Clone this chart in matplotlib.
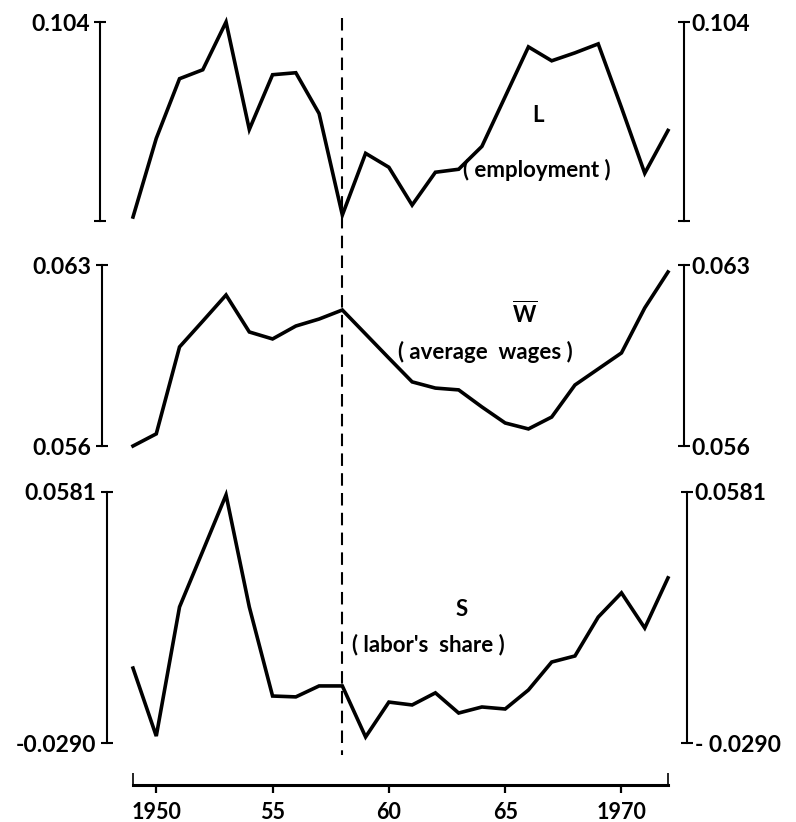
import matplotlib
matplotlib.use("Agg")
import matplotlib.pyplot as plt
from matplotlib.lines import Line2D
from matplotlib.transforms import blended_transform_factory

plt.rcParams['font.family'] = ['Lato', 'DejaVu Sans']
plt.rcParams['font.weight'] = 'bold'
plt.rcParams['mathtext.fontset'] = 'custom'
plt.rcParams['mathtext.rm'] = 'Lato:bold'

# annual series, 1949-1972
years = list(range(1949, 1973))
employment = [0.0844, 0.0923, 0.0983, 0.0992, 0.1040, 0.0932, 0.0987, 0.0989,
              0.0948, 0.0846, 0.0908, 0.0894, 0.0856, 0.0889, 0.0892, 0.0915,
              0.0965, 0.1015, 0.1001, 0.1009, 0.1018, 0.0954, 0.0888, 0.0931]
avg_wages = [0.05600, 0.05647, 0.05983, 0.06083, 0.06184, 0.06041, 0.06014, 0.06064,
             0.06091, 0.06126, 0.06033, 0.05940, 0.05848, 0.05824, 0.05817, 0.05751,
             0.05689, 0.05666, 0.05712, 0.05836, 0.05898, 0.05960, 0.06134, 0.06273]
labor_share = [-0.0030, -0.0266, 0.0182, 0.0376, 0.0571, 0.0182, -0.0127, -0.0130,
               -0.0092, -0.0092, -0.0269, -0.0148, -0.0158, -0.0116, -0.0186, -0.0165,
               -0.0172, -0.0106, -0.0009, 0.0012, 0.0147, 0.0231, 0.0109, 0.0283]

# scale end points of each panel
emp_range = (0.084, 0.104)
wage_range = (0.056, 0.063)
share_range = (-0.0290, 0.0581)

emp_labels = ['', '0.104']
wage_labels = ['0.056', '0.063']
share_left = ['-0.0290', '0.0581']
share_right = ['- 0.0290', '0.0581']

recession_year = 1958
x_ticks = [1950, 1955, 1960, 1965, 1970]
x_labels = ['1950', '55', '60', '65', '1970']

W, H = 796, 822
fig = plt.figure(figsize=(W / 100, H / 100), dpi=100)
fig.patch.set_facecolor('white')


def px_rect(x0, x1, ytop, ybot):
    return [x0 / W, 1 - ybot / H, (x1 - x0) / W, (ybot - ytop) / H]


def panel(top, bot, values, yrange, left_labels, right_labels, left_off, right_off):
    ax = fig.add_axes(px_rect(133, 668, top, bot))
    ax.plot(years, values, color='black', lw=2.6, solid_joinstyle='miter', clip_on=False)
    ax.set_xlim(years[0], years[-1])
    ax.set_ylim(*yrange)
    ax.patch.set_visible(False)
    ax2 = ax.twinx()
    ax2.set_ylim(*yrange)
    for s in ['top', 'bottom', 'right']:
        ax.spines[s].set_visible(False)
    for s in ['top', 'bottom', 'left']:
        ax2.spines[s].set_visible(False)
    ax.spines['left'].set_position(('outward', left_off * 0.72))
    ax2.spines['right'].set_position(('outward', right_off * 0.72))
    ax.spines['left'].set_linewidth(1.5)
    ax2.spines['right'].set_linewidth(1.5)
    ax.set_xticks([])
    ax.set_yticks(yrange)
    ax.set_yticklabels(left_labels)
    ax2.set_yticks(yrange)
    ax2.set_yticklabels(right_labels)
    ax.tick_params(axis='y', direction='inout', length=9, width=1.5, labelsize=16.5, pad=3)
    ax2.tick_params(axis='y', direction='inout', length=9, width=1.5, labelsize=16.5, pad=1)
    return ax


panel(22, 221, employment, emp_range, emp_labels, emp_labels, 33, 16)
panel(265, 446, avg_wages, wage_range, wage_labels, wage_labels, 31, 16)
panel(492, 743, labor_share, share_range, share_left, share_right, 26, 19)

# time axis
axb = fig.add_axes(px_rect(133, 668, 770, 785))
axb.set_xlim(years[0], years[-1])
axb.patch.set_visible(False)
for s in ['top', 'left', 'right']:
    axb.spines[s].set_visible(False)
axb.spines['bottom'].set_linewidth(2.2)
axb.set_yticks([])
axb.set_xticks(x_ticks)
axb.set_xticklabels(x_labels)
axb.set_xticks([years[0], years[-1]], minor=True)
axb.tick_params(axis='x', which='major', direction='out', length=6, width=1.6,
                labelsize=15.5, pad=6)
axb.tick_params(axis='x', which='minor', direction='in', length=9, width=1.2)

# dashed marker through all three panels
trans = blended_transform_factory(axb.transData, fig.transFigure)
fig.add_artist(Line2D([recession_year, recession_year], [1 - 18 / H, 1 - 755 / H],
                      transform=trans, color='black', lw=1.5, dashes=(6, 3.5)))

# series names
fig.text(538 / W, 1 - 115 / H, 'L', ha='center', va='center', fontsize=16)
fig.text(537 / W, 1 - 170 / H, '( employment )', ha='center', va='center', fontsize=16)
fig.text(525 / W, 1 - 314 / H, r'$\overline{\mathrm{W}}$', ha='center', va='center', fontsize=16)
fig.text(485 / W, 1 - 352 / H, '( average  wages )', ha='center', va='center', fontsize=16)
fig.text(462 / W, 1 - 609 / H, 'S', ha='center', va='center', fontsize=16)
fig.text(428 / W, 1 - 645 / H, "( labor's  share )", ha='center', va='center', fontsize=16)

fig.savefig('out.png', dpi=100)
